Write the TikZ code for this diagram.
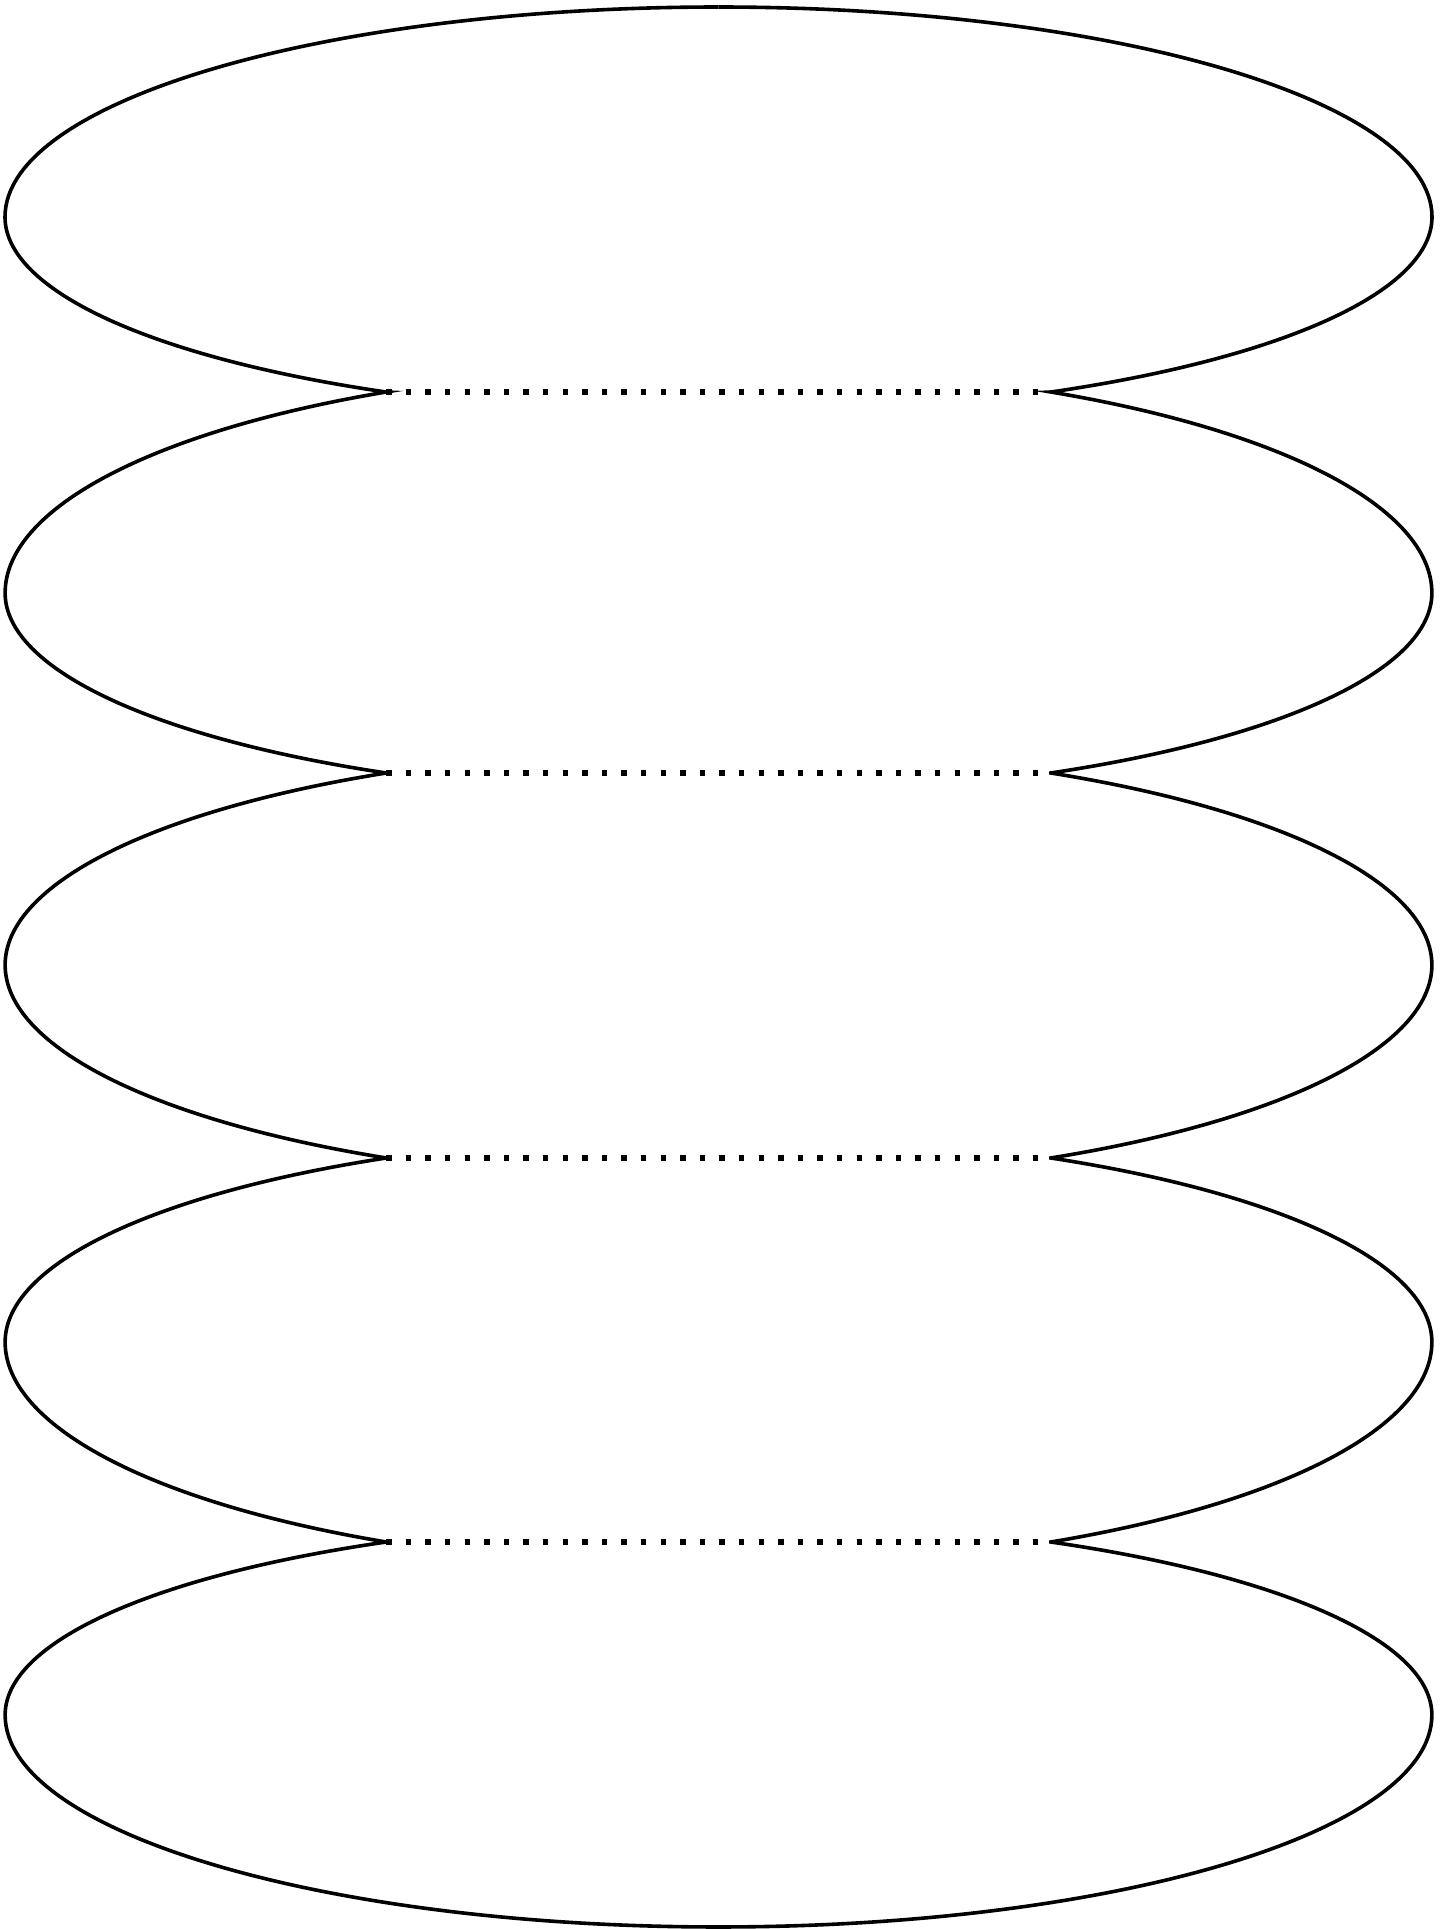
\documentclass[tikz,border=0pt]{standalone}
\begin{document}
\begin{tikzpicture}[x=0.5pt,y=-0.5pt,
  outline/.style={line width=1.8pt, black},
  chord/.style={line width=2.7pt, dash pattern=on 2.7pt off 7.1pt, black}]
\useasboundingbox (0,0) rectangle (1453,1929);
% top and bottom points
\coordinate (T) at (718.5,7);
\coordinate (B) at (718.5,1927);
% cusps (where neighbouring lobes meet)
\coordinate (L1) at (386.1,392);
\coordinate (L2) at (386.1,773);
\coordinate (L3) at (386.1,1158);
\coordinate (L4) at (386.1,1542);
\coordinate (R1) at (1050.9,392);
\coordinate (R2) at (1050.9,773);
\coordinate (R3) at (1050.9,1158);
\coordinate (R4) at (1050.9,1542);
% left outline (elliptic arcs, rx = 713.5)
\draw[outline] (T)
  arc[start angle=270, end angle=180, x radius=713.5, y radius=210]
  arc[start angle=180, end angle=117.78, x radius=713.5, y radius=197.8]
  -- (L1)
  arc[start angle=242.22, end angle=180, x radius=713.5, y radius=227.2]
  arc[start angle=180, end angle=117.78, x radius=713.5, y radius=203.4]
  -- (L2)
  arc[start angle=242.22, end angle=180, x radius=713.5, y radius=217.0]
  arc[start angle=180, end angle=117.78, x radius=713.5, y radius=218.1]
  -- (L3)
  arc[start angle=242.22, end angle=180, x radius=713.5, y radius=208.0]
  arc[start angle=180, end angle=117.78, x radius=713.5, y radius=226.0]
  -- (L4)
  arc[start angle=242.22, end angle=180, x radius=713.5, y radius=195.5]
  arc[start angle=180, end angle=90, x radius=713.5, y radius=212]
  -- (B);
% right outline
\draw[outline] (T)
  arc[start angle=270, end angle=360, x radius=713.5, y radius=210]
  arc[start angle=0, end angle=62.22, x radius=713.5, y radius=197.8]
  -- (R1)
  arc[start angle=-62.22, end angle=0, x radius=713.5, y radius=227.2]
  arc[start angle=0, end angle=62.22, x radius=713.5, y radius=203.4]
  -- (R2)
  arc[start angle=-62.22, end angle=0, x radius=713.5, y radius=217.0]
  arc[start angle=0, end angle=62.22, x radius=713.5, y radius=218.1]
  -- (R3)
  arc[start angle=-62.22, end angle=0, x radius=713.5, y radius=208.0]
  arc[start angle=0, end angle=62.22, x radius=713.5, y radius=226.0]
  -- (R4)
  arc[start angle=-62.22, end angle=0, x radius=713.5, y radius=195.5]
  arc[start angle=0, end angle=90, x radius=713.5, y radius=212]
  -- (B);
% dotted chords
\draw[chord] (L1) -- (R1);
\draw[chord] (L2) -- (R2);
\draw[chord] (L3) -- (R3);
\draw[chord] (L4) -- (R4);
\end{tikzpicture}
\end{document}
